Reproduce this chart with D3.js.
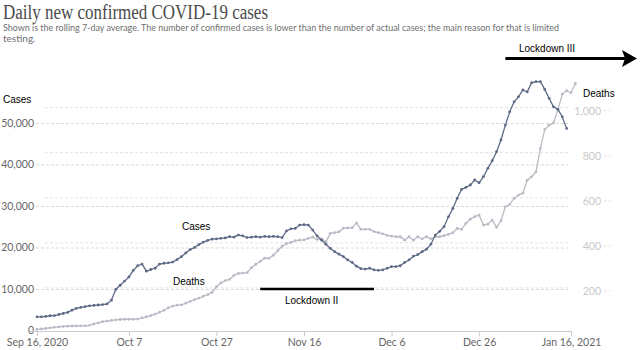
<!DOCTYPE html>
<html>
<head>
<meta charset="utf-8">
<script src="https://cdn.jsdelivr.net/npm/d3@7"></script>
<style>
  body { margin: 0; background: #fff; }
  svg { display: block; }
  .ann { font-family: "Liberation Sans", Arial, sans-serif; font-size: 10px; fill: #000; }
</style>
</head>
<body>
<div id="chart"></div>
<script>
// daily 7-day rolling averages, starting Sep 16, 2020
const startDate = Date.UTC(2020, 8, 16);
const cases = [
  3300, 3300, 3400, 3550, 3600, 3850, 4100, 4350, 4900, 5350,
  5550, 5750, 5950, 6050, 6150, 6250, 6400, 7300, 9900, 10900,
  11900, 12900, 14500, 15600, 16000, 14300, 14700, 15000, 16000, 16200,
  16300, 16500, 17100, 17800, 18700, 19500, 20000, 20700, 21300, 21700,
  22000, 22100, 22200, 22300, 22600, 22500, 23000, 22800, 22400, 22500,
  22600, 22500, 22700, 22600, 22700, 22600, 22400, 24000, 24500, 24600,
  25400, 25500, 25400, 24200, 22800, 21800, 20800, 19800, 19000, 18400,
  17800, 17000, 16400, 15500, 14900, 14800, 15000, 14600, 14500, 14600,
  15000, 15400, 15400, 15600, 16400, 17000, 17900, 18300, 19000, 19600,
  20800, 23000, 23900, 25000, 27400, 29400, 31850, 34000, 34500, 35060,
  36270, 35600, 37060, 39080, 40900, 43090, 45900, 49500, 52700, 55100,
  56300, 57950, 57500, 59700, 59950, 59950, 58100, 55950, 53900, 53300,
  51500, 48700
];
const deaths = [
  16, 18, 20, 23, 25, 27, 29, 30, 31, 32,
  32, 32, 34, 40, 45, 50, 53, 56, 58, 60,
  61, 61, 61, 62, 67, 72, 77, 84, 92, 101,
  112, 119, 124, 125, 132, 140, 148, 155, 163, 170,
  180, 205, 222, 232, 238, 255, 264, 266, 268, 290,
  305, 318, 332, 331, 345, 365, 385, 397, 402, 410,
  412, 413, 420, 425, 415, 418, 405, 442, 445, 449,
  465, 466, 467, 489, 460, 460, 460, 450, 445, 440,
  433, 430, 427, 427, 412, 427, 412, 427, 418, 427,
  418, 427, 427, 432, 438, 445, 464, 460, 486, 505,
  516, 523, 479, 483, 501, 469, 498, 560, 571, 597,
  612, 620, 678, 693, 715, 819, 903, 922, 932, 989,
  1060, 1075, 1066, 1107
];
const xTicks = [
  Date.UTC(2020, 8, 16), Date.UTC(2020, 9, 7), Date.UTC(2020, 9, 27),
  Date.UTC(2020, 10, 16), Date.UTC(2020, 11, 6), Date.UTC(2020, 11, 26),
  Date.UTC(2021, 0, 16)
];
const xTickLabels = ["Sep 16, 2020", "Oct 7", "Oct 27", "Nov 16", "Dec 6", "Dec 26", "Jan 16, 2021"];
const caseTicks = [0, 10000, 20000, 30000, 40000, 50000];
const deathTicks = [200, 400, 600, 800, 1000];
const lockdown2 = [Date.UTC(2020, 10, 6), Date.UTC(2020, 11, 2)];
const lockdown3 = [Date.UTC(2021, 0, 1), Date.UTC(2021, 0, 30)];

const W = 640, H = 350;
const caseColor = "#5d6a86";
const deathColor = "#b8bcc5";

const svg = d3.select("#chart").append("svg")
  .attr("width", W).attr("height", H);

// title
svg.append("text")
  .attr("x", 3).attr("y", 19)
  .attr("font-family", "'Liberation Serif', 'DejaVu Serif', serif")
  .attr("font-size", 20)
  .attr("fill", "#4a4a4a")
  .attr("textLength", 265)
  .attr("lengthAdjust", "spacingAndGlyphs")
  .text("Daily new confirmed COVID-19 cases");
svg.append("text")
  .attr("x", 3).attr("y", 31)
  .attr("font-family", "Lato, sans-serif")
  .attr("font-size", 10)
  .attr("fill", "#6e6e6e")
  .attr("textLength", 556)
  .attr("lengthAdjust", "spacingAndGlyphs")
  .text("Shown is the rolling 7-day average. The number of confirmed cases is lower than the number of actual cases; the main reason for that is limited");
svg.append("text")
  .attr("x", 3).attr("y", 42)
  .attr("font-family", "Lato, sans-serif")
  .attr("font-size", 10)
  .attr("fill", "#6e6e6e")
  .text("testing.");

// scales
const x = d3.scaleUtc()
  .domain([xTicks[0], xTicks[xTicks.length - 1]])
  .range([37, 571]);
const yC = d3.scaleLinear().domain([0, 50000]).range([330.5, 123]);
const yD = d3.scaleLinear().domain([0, 1000]).range([333, 107.6]);

const dateAt = i => d3.utcDay.offset(new Date(startDate), i);

// deaths gridlines (right axis)
svg.append("g")
  .selectAll("line")
  .data(deathTicks)
  .join("line")
  .attr("x1", 45).attr("x2", 570)
  .attr("y1", d => yD(d)).attr("y2", d => yD(d))
  .attr("stroke", "#e4e4e4")
  .attr("stroke-dasharray", "3,2");
svg.append("g")
  .selectAll("line")
  .data(deathTicks)
  .join("line")
  .attr("x1", 604).attr("x2", 611)
  .attr("y1", d => yD(d) + 3).attr("y2", d => yD(d) + 3)
  .attr("stroke", "#e4e4e4")
  .attr("stroke-dasharray", "3,2");

// cases axis + gridlines
const gC = svg.append("g")
  .attr("transform", "translate(36,0)")
  .call(d3.axisLeft(yC).tickValues(caseTicks).tickSize(-532).tickPadding(2)
    .tickFormat(d3.format(",")));
gC.select(".domain").remove();
gC.selectAll(".tick line")
  .attr("stroke", "#d9d9d9")
  .attr("stroke-dasharray", "3,2")
  .attr("opacity", d => d === 0 ? 0 : 1);
gC.selectAll(".tick text")
  .attr("font-family", "Lato, sans-serif")
  .attr("font-size", 10.5)
  .attr("fill", "#666");

// deaths axis labels
const gD = svg.append("g")
  .attr("transform", "translate(601,0)")
  .call(d3.axisLeft(yD).tickValues(deathTicks).tickSize(0).tickPadding(0)
    .tickFormat(d3.format(",")));
gD.select(".domain").remove();
gD.selectAll(".tick text")
  .attr("dy", "0.62em")
  .attr("font-family", "Lato, sans-serif")
  .attr("font-size", 10.5)
  .attr("fill", "#c8c8c8");

// x axis
const gX = svg.append("g")
  .attr("transform", "translate(0,331)")
  .call(d3.axisBottom(x).tickValues(xTicks.map(d => new Date(d))).tickSize(5).tickPadding(3)
    .tickFormat((d, i) => xTickLabels[i]));
gX.select(".domain").attr("stroke", "#ccc").attr("d", "M30,0.5H571");
gX.selectAll(".tick line").attr("stroke", "#ccc");
gX.selectAll(".tick text")
  .attr("font-family", "Lato, sans-serif")
  .attr("font-size", 10.5)
  .attr("fill", "#666");

// lines
const lineC = d3.line().x((d, i) => x(dateAt(i))).y(d => yC(d));
const lineD = d3.line().x((d, i) => x(dateAt(i))).y(d => yD(d));

svg.append("path").datum(deaths)
  .attr("d", lineD)
  .attr("fill", "none")
  .attr("stroke", deathColor)
  .attr("stroke-width", 1.3);
svg.append("g").selectAll("circle")
  .data(deaths)
  .join("circle")
  .attr("cx", (d, i) => x(dateAt(i)))
  .attr("cy", d => yD(d))
  .attr("r", 1.4)
  .attr("fill", deathColor);

svg.append("path").datum(cases)
  .attr("d", lineC)
  .attr("fill", "none")
  .attr("stroke", caseColor)
  .attr("stroke-width", 1.3);
svg.append("g").selectAll("circle")
  .data(cases)
  .join("circle")
  .attr("cx", (d, i) => x(dateAt(i)))
  .attr("cy", d => yC(d))
  .attr("r", 1.4)
  .attr("fill", caseColor);

// series labels
svg.append("text").attr("class", "ann").attr("x", 3).attr("y", 103).text("Cases");
svg.append("text").attr("class", "ann").attr("x", 583).attr("y", 97).text("Deaths");
svg.append("text").attr("class", "ann").attr("x", 182).attr("y", 230).text("Cases");
svg.append("text").attr("class", "ann").attr("x", 173).attr("y", 285).text("Deaths");

// lockdown II
svg.append("line")
  .attr("x1", x(lockdown2[0])).attr("x2", x(lockdown2[1]))
  .attr("y1", 289).attr("y2", 289)
  .attr("stroke", "#000").attr("stroke-width", 2.5);
svg.append("text").attr("class", "ann").attr("x", 285).attr("y", 304).text("Lockdown II");

// lockdown III arrow
const ax0 = x(lockdown3[0]);
svg.append("line")
  .attr("x1", ax0).attr("x2", 626)
  .attr("y1", 58.5).attr("y2", 58.5)
  .attr("stroke", "#000").attr("stroke-width", 3);
svg.append("path")
  .attr("d", "M622,50 L637,58.5 L622,67 L625,58.5 Z")
  .attr("fill", "#000");
svg.append("text").attr("class", "ann").attr("x", 519).attr("y", 52).text("Lockdown III");
</script>
</body>
</html>
